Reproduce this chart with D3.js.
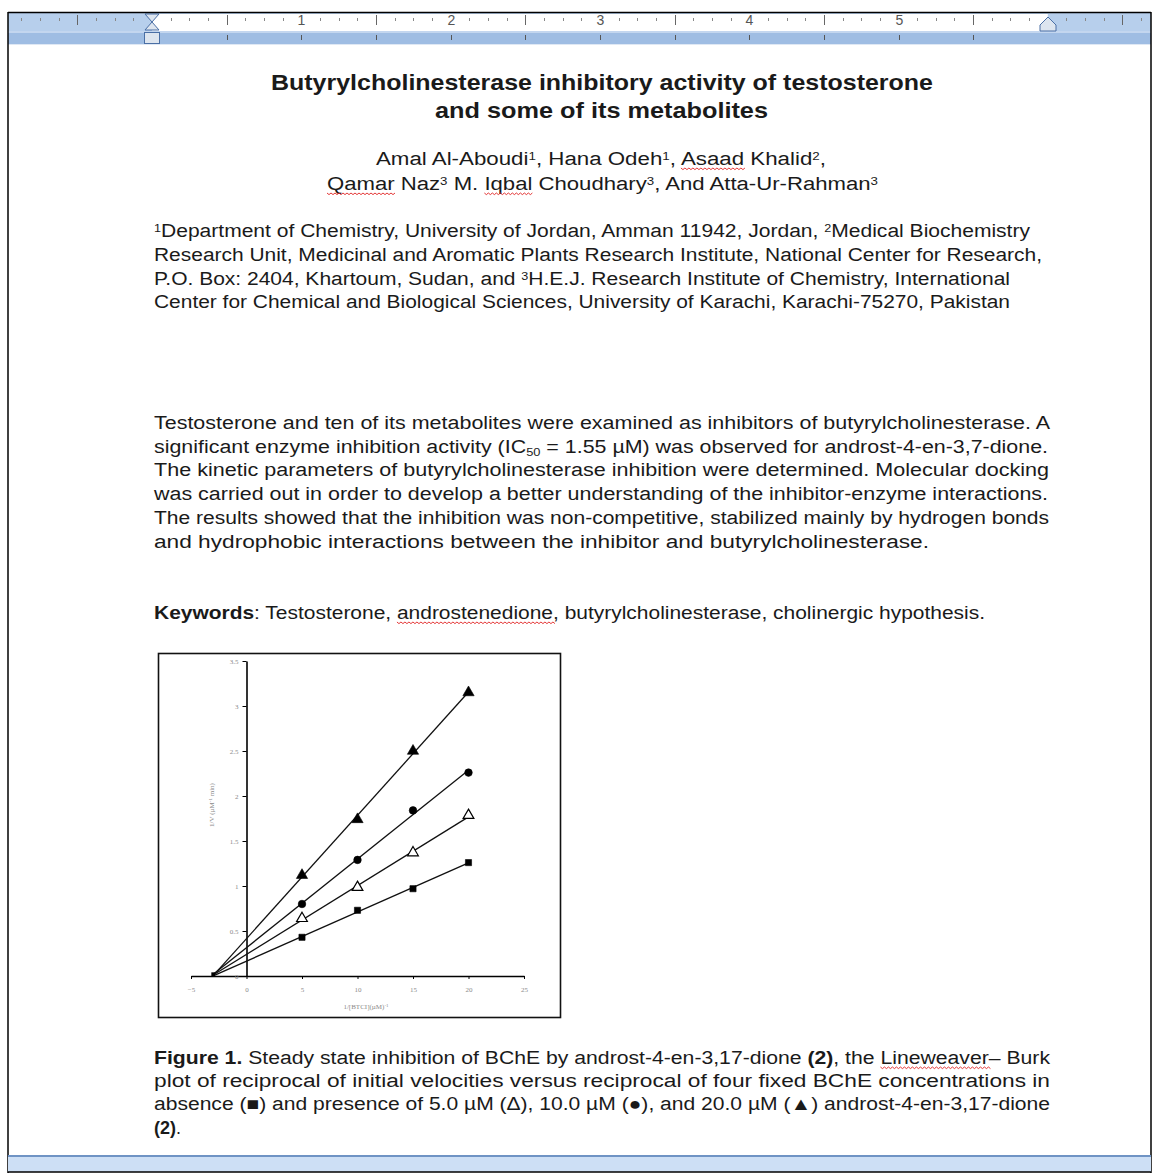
<!DOCTYPE html>
<html>
<head>
<meta charset="utf-8">
<script src="https://cdn.jsdelivr.net/npm/d3@7"></script>
<style>
  body { margin: 0; background: #fff; }
  svg { display: block; }
  text { font-family: "Liberation Sans", Arial, sans-serif; fill: #1a1a1a; }
</style>
</head>
<body>
<script>
// ---- chart data ----
var invSubstrate = [5, 10, 15, 20];
var control = [0.43, 0.73, 0.97, 1.26];     // squares
var inhib5 = [0.64, 0.985, 1.37, 1.785];    // open triangles
var inhib10 = [0.80, 1.29, 1.84, 2.26];     // filled circles
var inhib20 = [1.12, 1.74, 2.50, 3.15];     // filled triangles
var fitFrom = -3, fitTo = 20;
var xTicks = [-5, 0, 5, 10, 15, 20, 25];
var yTicks = [0, 0.5, 1, 1.5, 2, 2.5, 3, 3.5];
var yTickLabels = ['0', '0.5', '1', '1.5', '2', '2.5', '3', '3.5'];
var xTitle = '1/[BTCI](\u00b5M)';
var yTitle = '1/V (\u00b5M';

// ---- page text ----
var titleLines = ['Butyrylcholinesterase inhibitory activity of testosterone', 'and some of its metabolites'];
var abstractLines = [
  'Testosterone and ten of its metabolites were examined as inhibitors of butyrylcholinesterase. A',
  null,
  'The kinetic parameters of butyrylcholinesterase inhibition were determined. Molecular docking',
  'was carried out in order to develop a better understanding of the inhibitor-enzyme interactions.',
  'The results showed that the inhibition was non-competitive, stabilized mainly by hydrogen bonds',
  'and hydrophobic interactions between the inhibitor and butyrylcholinesterase.'
];
var affiliationLines = [
  null,
  'Research Unit, Medicinal and Aromatic Plants Research Institute, National Center for Research,',
  null,
  'Center for Chemical and Biological Sciences, University of Karachi, Karachi-75270, Pakistan'
];

var W = 1153, H = 1173;
var svg = d3.select('body').append('svg')
  .attr('width', W)
  .attr('height', H);

// ---------- word window chrome ----------
svg.append('rect').attr('x', 8).attr('y', 13).attr('width', 1143).attr('height', 1159).attr('fill', '#fff');

// ruler
var inch = d3.scaleLinear().domain([0, 1]).range([152, 301.3]);
svg.append('rect').attr('x', 8).attr('y', 13).attr('width', 1143).attr('height', 18).attr('fill', '#b7cfec');
svg.append('rect').attr('x', inch(0)).attr('y', 14).attr('width', inch(6) - inch(0)).attr('height', 17).attr('fill', '#fff');
svg.append('rect').attr('x', 8).attr('y', 31).attr('width', 1143).attr('height', 13).attr('fill', '#9fbde3');
svg.append('rect').attr('x', 8).attr('y', 31).attr('width', 1143).attr('height', 2).attr('fill', '#c3d6ef');
svg.append('line').attr('x1', 8).attr('x2', 1151).attr('y1', 44.5).attr('y2', 44.5).attr('stroke', '#dfe8f4');

var eighths = d3.range(-7, 54);
eighths.forEach(function(k) {
  var x = Math.round(inch(k / 8)) + 0.5;
  if (x < 12 || x > 1148) return;
  if (k % 8 === 0) {
    if (k > 0 && k < 48) {
      svg.append('text').attr('x', x).attr('y', 25).attr('text-anchor', 'middle')
        .style('font-size', '14px').style('fill', '#555').text(k / 8);
    }
  } else if (k % 4 === 0) {
    svg.append('line').attr('x1', x).attr('x2', x).attr('y1', 15).attr('y2', 25).attr('stroke', '#666');
  } else {
    svg.append('line').attr('x1', x).attr('x2', x).attr('y1', 18).attr('y2', 21).attr('stroke', '#888');
  }
});
d3.range(1, 12).forEach(function(k) {
  var x = Math.round(inch(k / 2)) + 0.5;
  svg.append('line').attr('x1', x).attr('x2', x).attr('y1', 35).attr('y2', 40).attr('stroke', '#555');
});

// indent markers
var mk = '#4a6fa5', mf = '#dde5ef';
svg.append('path').attr('d', 'M145,14 L159,14 L152,22 Z').attr('fill', mf).attr('stroke', mk);
svg.append('path').attr('d', 'M152,22 L159,30 L145,30 Z').attr('fill', mf).attr('stroke', mk);
svg.append('rect').attr('x', 144.5).attr('y', 32.5).attr('width', 15).attr('height', 11).attr('fill', mf).attr('stroke', mk);
svg.append('path').attr('d', 'M1048,17 L1056,25 L1056,31 L1040,31 L1040,25 Z').attr('fill', mf).attr('stroke', mk);

// borders
svg.append('line').attr('x1', 8).attr('x2', 1151).attr('y1', 12.5).attr('y2', 12.5).attr('stroke', '#000').attr('stroke-width', 1.5);
svg.append('line').attr('x1', 8).attr('x2', 8).attr('y1', 12).attr('y2', 1173).attr('stroke', '#000').attr('stroke-width', 1.5);
svg.append('line').attr('x1', 1151).attr('x2', 1151).attr('y1', 12).attr('y2', 1173).attr('stroke', '#000').attr('stroke-width', 1.5);
// bottom status strip
svg.append('rect').attr('x', 8).attr('y', 1155).attr('width', 1143).attr('height', 2).attr('fill', '#6f93c4');
svg.append('rect').attr('x', 8).attr('y', 1157).attr('width', 1143).attr('height', 15).attr('fill', '#cddff5');
svg.append('line').attr('x1', 8).attr('x2', 1151).attr('y1', 1172).attr('y2', 1172).attr('stroke', '#000').attr('stroke-width', 1.5);

// ---------- text helper ----------
function textLine(x, y, width, parts, size, extra) {
  var t = svg.append('text')
    .attr('x', x).attr('y', y)
    .style('font-size', size + 'px');
  if (width) t.attr('textLength', width).attr('lengthAdjust', 'spacingAndGlyphs');
  parts.forEach(function(p) {
    if (typeof p === 'string') p = { t: p };
    var s = t.append('tspan').text(p.t);
    if (p.bold) s.style('font-weight', 'bold');
    if (p.sup) s.attr('baseline-shift', '45%').style('font-size', (size * 0.6) + 'px');
    if (p.sub) s.attr('baseline-shift', '-25%').style('font-size', (size * 0.6) + 'px');
  });
  if (extra) extra(t);
  return t;
}

// red wavy spell-check underline under a word of a line
function squiggle(t, word) {
  var full = t.text();
  var i = full.indexOf(word);
  if (i < 0) return;
  var n = t.node();
  var x0 = n.getStartPositionOfChar(i).x;
  var x1 = n.getEndPositionOfChar(i + word.length - 1).x;
  var y = n.getStartPositionOfChar(i).y + 3;
  var d = 'M' + x0 + ',' + y;
  for (var x = x0, k = 0; x < x1; x += 2, k++) {
    d += ' L' + (x + 2) + ',' + (y + (k % 2 ? 0 : 1.6));
  }
  svg.append('path').attr('d', d).attr('fill', 'none').attr('stroke', '#e02020').attr('stroke-width', 0.9);
}

// title
textLine(271, 90, 662, [{ t: titleLines[0], bold: true }], 22);
textLine(435, 118, 333, [{ t: titleLines[1], bold: true }], 22);

// authors
var a1 = textLine(376, 165, 450, ['Amal Al-Aboudi', { t: '1', sup: true }, ', Hana Odeh', { t: '1', sup: true },
  ', Asaad Khalid', { t: '2', sup: true }, ','], 18);
squiggle(a1, 'Asaad');
var a2 = textLine(327, 190, 551, ['Qamar Naz', { t: '3', sup: true }, ' M. Iqbal Choudhary', { t: '3', sup: true },
  ', And Atta-Ur-Rahman', { t: '3', sup: true }], 18);
squiggle(a2, 'Qamar');
squiggle(a2, 'Iqbal');

// affiliations
var affY = [237, 261, 285, 308];
textLine(154, affY[0], 876, [{ t: '1', sup: true }, 'Department of Chemistry, University of Jordan, Amman 11942, Jordan, ',
  { t: '2', sup: true }, 'Medical Biochemistry'], 18);
textLine(154, affY[1], 888, [affiliationLines[1]], 18);
textLine(154, affY[2], 856, ['P.O. Box: 2404, Khartoum, Sudan, and ', { t: '3', sup: true },
  'H.E.J. Research Institute of Chemistry, International'], 18);
textLine(154, affY[3], 856, [affiliationLines[3]], 18);

// abstract
var absY = [429, 453, 476, 500, 524, 548];
var absW = [896, 894, 895, 894, 895, 775];
absY.forEach(function(y, i) {
  if (i === 1) {
    textLine(154, y, absW[i], ['significant enzyme inhibition activity (IC', { t: '50', sub: true },
      ' = 1.55 \u00b5M) was observed for androst-4-en-3,7-dione.'], 18);
  } else {
    textLine(154, y, absW[i], [abstractLines[i]], 18);
  }
});

// keywords
var kw = textLine(154, 619, 831, [{ t: 'Keywords', bold: true },
  ': Testosterone, androstenedione, butyrylcholinesterase, cholinergic hypothesis.'], 18);
squiggle(kw, 'androstenedione');

// caption
var c1 = textLine(154, 1064, 896, [{ t: 'Figure 1.', bold: true }, ' Steady state inhibition of BChE by androst-4-en-3,17-dione ',
  { t: '(2)', bold: true }, ', the Lineweaver\u2013 Burk'], 18);
squiggle(c1, 'Lineweaver');
textLine(154, 1087, 896, ['plot of reciprocal of initial velocities versus reciprocal of four fixed BChE concentrations in'], 18);
textLine(154, 1110, 896, ['absence (\u25a0) and presence of  5.0 \u00b5M (\u0394), 10.0 \u00b5M (\u25cf), and 20.0 \u00b5M (\u25b2) androst-4-en-3,17-dione'], 18);
textLine(154, 1134, null, [{ t: '(2)', bold: true }, '.'], 18);

// ---------- the chart ----------
svg.append('rect').attr('x', 158.5).attr('y', 653.5).attr('width', 402).attr('height', 364)
  .attr('fill', '#fff').attr('stroke', '#111').attr('stroke-width', 1.6);

var x = d3.scaleLinear().domain([-5, 25]).range([191, 524]);
var y = d3.scaleLinear().domain([0, 3.5]).range([976, 661]);
var g = svg.append('g');
var grey = '#8a8a8a';

// axes
var xAxis = d3.axisBottom(x).tickValues(xTicks).tickSize(3).tickSizeOuter(0).tickFormat(d3.format('d'));
var gx = g.append('g').attr('transform', 'translate(0,' + y(0) + ')').call(xAxis);
var yAxis = d3.axisLeft(y).tickValues(yTicks).tickSize(4).tickSizeOuter(0)
  .tickFormat(function(d, i) { return yTickLabels[i]; });
var gy = g.append('g').attr('transform', 'translate(' + x(0) + ',0)').call(yAxis);
[gx, gy].forEach(function(a) {
  a.select('.domain').attr('stroke', '#000').attr('stroke-width', 1.6);
  a.selectAll('.tick line').attr('stroke', '#000');
  a.selectAll('.tick text').style('font-family', '"Liberation Serif", serif').style('font-size', '7px').style('fill', grey);
});
gx.selectAll('.tick text').attr('dy', '1.4em');
gy.selectAll('.tick text').attr('x', -8);

g.append('text').attr('x', 366).attr('y', 1009).attr('text-anchor', 'middle')
  .style('font-family', '"Liberation Serif", serif').style('font-size', '7px').style('fill', grey)
  .text(xTitle).append('tspan').attr('baseline-shift', '50%').style('font-size', '5px').text('-1');
var yt = g.append('text').attr('transform', 'translate(214,805) rotate(-90)').attr('text-anchor', 'middle')
  .style('font-family', '"Liberation Serif", serif').style('font-size', '7px').style('fill', grey)
  .text(yTitle);
yt.append('tspan').attr('baseline-shift', '50%').style('font-size', '5px').text('-1');
yt.append('tspan').attr('baseline-shift', '0').text(' min)');

// series with least-squares fit lines
var series = [
  { values: control, shape: d3.symbolSquare, size: 38, fill: '#000' },
  { values: inhib5, shape: d3.symbolTriangle, size: 50, fill: '#fff' },
  { values: inhib10, shape: d3.symbolCircle, size: 45, fill: '#000' },
  { values: inhib20, shape: d3.symbolTriangle, size: 55, fill: '#000' }
];
function fit(xs, ys) {
  var mx = d3.mean(xs), my = d3.mean(ys);
  var sxy = d3.sum(xs, function(v, i) { return (v - mx) * (ys[i] - my); });
  var sxx = d3.sum(xs, function(v) { return (v - mx) * (v - mx); });
  var b = sxy / sxx;
  return { slope: b, icpt: my - b * mx };
}
var line = d3.line().x(function(d) { return x(d[0]); }).y(function(d) { return y(d[1]); });
series.forEach(function(s) {
  var f = fit(invSubstrate, s.values);
  var ends = [fitFrom, fitTo].map(function(v) { return [v, Math.max(0, f.icpt + f.slope * v)]; });
  g.append('path').attr('d', line(ends)).attr('fill', 'none').attr('stroke', '#111').attr('stroke-width', 1.3);
});
series.forEach(function(s) {
  g.selectAll(null).data(invSubstrate).enter().append('path')
    .attr('d', d3.symbol().type(s.shape).size(s.size))
    .attr('transform', function(d, i) { return 'translate(' + x(d) + ',' + y(s.values[i]) + ')'; })
    .attr('fill', s.fill).attr('stroke', '#000').attr('stroke-width', s.fill === '#fff' ? 1.2 : 0.6);
});
// convergence blob near the x intercept
g.append('path').attr('d', d3.symbol().type(d3.symbolSquare).size(14))
  .attr('transform', 'translate(' + x(fitFrom) + ',' + y(0.02) + ')').attr('fill', '#000');
</script>
</body>
</html>
